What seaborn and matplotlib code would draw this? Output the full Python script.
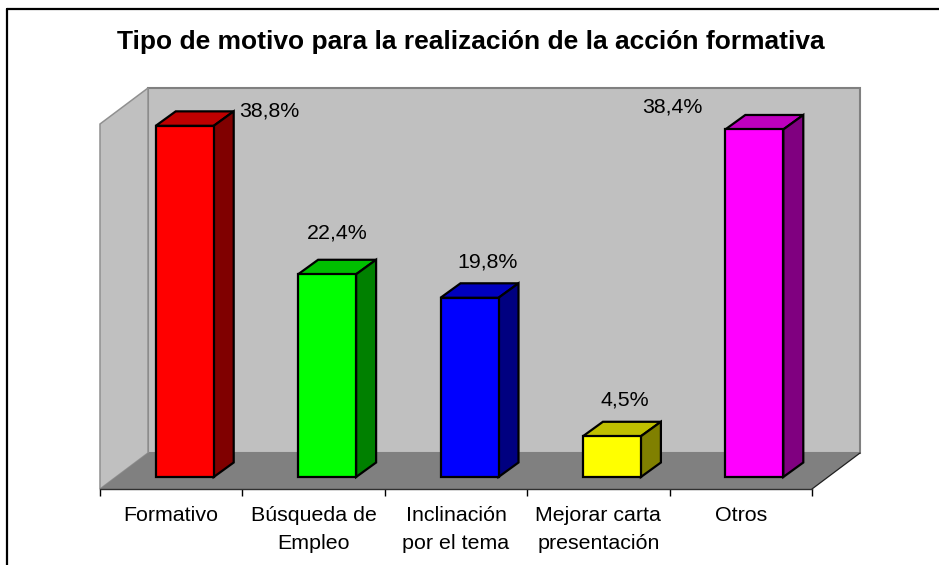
"""Bar chart with a drawn 3D look: motives for taking the training course."""

import matplotlib.pyplot as plt
import numpy as np
import pandas as pd
import seaborn as sns
from matplotlib.lines import Line2D
from matplotlib.patches import Polygon

categories = ["Formativo", "Búsqueda de\nEmpleo", "Inclinación\npor el tema",
              "Mejorar carta\npresentación", "Otros"]
values = [38.8, 22.4, 19.8, 4.5, 38.4]
value_labels = ["38,8%", "22,4%", "19,8%", "4,5%", "38,4%"]
colors = ["#FF0000", "#00FF00", "#0000FF", "#FFFF00", "#FF00FF"]
title = "Tipo de motivo para la realización de la acción formativa"

# layout in pixels of the 939x565 image
W, H = 939, 565
LEFT, RIGHT, BOTTOM, TOP = 100, 812, 489, 124
BASE = 477
PX_PER_UNIT = 9.05
PX_PER_CAT = (RIGHT - LEFT) / 5
SHIFT = 13.5 / PX_PER_CAT  # bars stand in the middle of the floor
WALL_DX, WALL_DY = 48 / PX_PER_CAT, 36 / PX_PER_UNIT
BAR_DX, BAR_DY = 20 / PX_PER_CAT, 14.5 / PX_PER_UNIT
# label centre relative to the top right corner of the bar front, pixels
label_offsets = [(56, 15), (-19, 41), (-11, 36), (-16.5, 36), (-111, 22)]

sns.set_theme(style="white")
plt.rcParams["font.family"] = ["Liberation Sans", "DejaVu Sans"]

fig = plt.figure(figsize=(W / 100, H / 100), dpi=100, facecolor="white")
ax = fig.add_axes([LEFT / W, 1 - BOTTOM / H, (RIGHT - LEFT) / W, (BOTTOM - TOP) / H])
ax.patch.set_visible(False)

df = pd.DataFrame({"motivo": categories, "valor": values})
sns.barplot(data=df, x="motivo", y="valor", hue="motivo", palette=colors, dodge=False,
            width=58 / PX_PER_CAT, edgecolor="black", linewidth=1.6, legend=False,
            saturation=1, ax=ax, zorder=5)

x0, x1 = -0.5 - SHIFT, 4.5 - SHIFT
y0, y1 = (BASE - BOTTOM) / PX_PER_UNIT, (BASE - TOP) / PX_PER_UNIT
ax.set_xlim(x0, x1)
ax.set_ylim(y0, y1)


def face(points, color, edge="none", lw=0, zorder=1):
    ax.add_patch(Polygon(points, closed=True, facecolor=color, edgecolor=edge,
                         linewidth=lw, clip_on=False, zorder=zorder, joinstyle="miter"))


# walls and floor
back_x0, back_x1 = x0 + WALL_DX, x1 + WALL_DX
back_y0, back_y1 = y0 + WALL_DY, y1 + WALL_DY
face([(back_x0, back_y0), (back_x1, back_y0), (back_x1, back_y1), (back_x0, back_y1)],
     "#C0C0C0", "#808080", 1.5)
face([(x0, y0), (back_x0, back_y0), (back_x0, back_y1), (x0, y1)], "#C0C0C0", "#909090", 1.1, 2)
face([(x0, y0), (x1, y0), (back_x1, back_y0), (back_x0, back_y0)], "#808080", zorder=2)
ax.plot([x1, back_x1], [y0, back_y0], color="#202020", lw=0.9, clip_on=False, zorder=3)

# top and side faces of every bar
for bar, color in zip(ax.patches, colors):
    rgb = np.array(plt.matplotlib.colors.to_rgb(color))
    left, right = bar.get_x(), bar.get_x() + bar.get_width()
    top = bar.get_height()
    face([(left, top), (right, top), (right + BAR_DX, top + BAR_DY), (left + BAR_DX, top + BAR_DY)],
         rgb * 0.75, "black", 1.6, 4)
    face([(right, 0), (right + BAR_DX, BAR_DY), (right + BAR_DX, top + BAR_DY), (right, top)],
         rgb * 0.5, "black", 1.6, 4)

for bar, text, (dx, dy) in zip(ax.patches, value_labels, label_offsets):
    ax.annotate(text, (bar.get_x() + bar.get_width(), bar.get_height()),
                xytext=(dx * 0.72, dy * 0.72), textcoords="offset points",
                ha="center", va="center", fontsize=15.4, color="black", zorder=6)

# ticks sit between the categories, labels in the middle
ax.set_xticks(np.arange(6) - 0.5 - SHIFT)
ax.set_xticklabels([])
ax.set_xticks(np.arange(5) - SHIFT, labels=categories, minor=True)
ax.tick_params(axis="x", which="major", length=5, width=1, color="black", bottom=True)
ax.tick_params(axis="x", which="minor", length=0, pad=12, labelsize=15.4, labelcolor="black")
for label in ax.get_xticklabels(minor=True):
    label.set_linespacing(1.6)
ax.set_yticks([])
ax.set_xlabel("")
ax.set_ylabel("")
sns.despine(ax=ax, left=True)
ax.spines["bottom"].set_color("#303030")
ax.spines["bottom"].set_linewidth(1.0)
ax.spines["bottom"].set_zorder(3)

fig.text(470.5 / W, 1 - 42.5 / H, title, ha="center", va="center", fontsize=19,
         fontweight="bold", color="black")

# chart frame: only the top and left edges fall inside the image
fig.add_artist(Line2D([7 / W, 1], [1 - 9 / H, 1 - 9 / H], color="black", lw=1.6))
fig.add_artist(Line2D([7 / W, 7 / W], [1 - 9 / H, 0], color="black", lw=1.6))

plt.savefig("out.png", dpi=100)
plt.close()
